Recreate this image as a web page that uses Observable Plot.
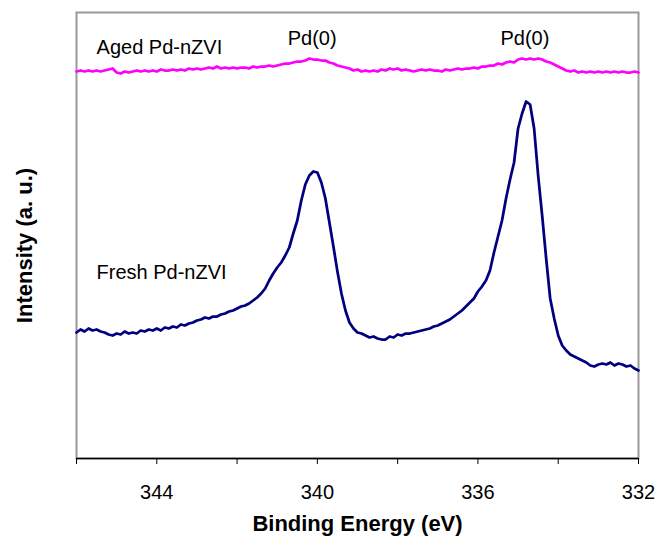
<!DOCTYPE html>
<html>
<head>
<meta charset="utf-8">
<script src="https://cdn.jsdelivr.net/npm/d3@7"></script>
<script src="https://cdn.jsdelivr.net/npm/@observablehq/plot@0.6"></script>
<style>
  html, body { margin: 0; padding: 0; background: white; }
</style>
</head>
<body>
<div id="chart"></div>
<script>
// Binding energy grid (eV), left (346) to right (332)
const energyEV = [346.0,345.9,345.8,345.7,345.6,345.5,345.4,345.3,345.2,345.1,
  345.0,344.9,344.8,344.7,344.6,344.5,344.4,344.3,344.2,344.1,
  344.0,343.9,343.8,343.7,343.6,343.5,343.4,343.3,343.2,343.1,
  343.0,342.9,342.8,342.7,342.6,342.5,342.4,342.3,342.2,342.1,
  342.0,341.9,341.8,341.7,341.6,341.5,341.4,341.3,341.2,341.1,
  341.0,340.9,340.8,340.7,340.6,340.5,340.4,340.3,340.2,340.1,
  340.0,339.9,339.8,339.7,339.6,339.5,339.4,339.3,339.2,339.1,
  339.0,338.9,338.8,338.7,338.6,338.5,338.4,338.3,338.2,338.1,
  338.0,337.9,337.8,337.7,337.6,337.5,337.4,337.3,337.2,337.1,
  337.0,336.9,336.8,336.7,336.6,336.5,336.4,336.3,336.2,336.1,
  336.0,335.9,335.8,335.7,335.6,335.5,335.4,335.3,335.2,335.1,
  335.0,334.9,334.8,334.7,334.6,334.5,334.4,334.3,334.2,334.1,
  334.0,333.9,333.8,333.7,333.6,333.5,333.4,333.3,333.2,333.1,
  333.0,332.9,332.8,332.7,332.6,332.5,332.4,332.3,332.2,332.1,
  332.0];

// Fresh Pd-nZVI intensity (a.u.)
const freshIntensity = [126,129,127,130,128,129,127,126,124,123,
  125,124,127,125,126,125,128,127,129,128,
  130,128,131,130,132,131,134,133,135,136,
  138,139,141,140,142,142,144,145,147,148,
  150,152,153,155,158,161,165,170,178,185,
  191,196,203,211,225,238,258,274,283,287,
  286,276,260,236,212,187,165,148,136,130,
  126,125,123,121,122,120,119,119,122,121,
  124,123,125,125,126,127,128,129,130,132,
  133,135,137,139,142,145,148,152,156,160,
  167,172,178,188,206,222,238,260,279,296,
  330,345,357,354,330,283,243,200,160,140,
  123,113,108,104,102,100,98,96,93,92,
  94,95,94,96,93,95,94,92,93,90,
  88];

// Aged Pd-nZVI intensity (a.u.)
const agedIntensity = [387,388,387,388,387,388,387,388,389,390,
  386,385,387,386,387,388,387,388,387,388,
  387,389,388,388,389,388,389,388,390,389,
  390,389,390,391,390,392,390,391,390,391,
  390,391,391,390,392,391,392,392,393,392,
  393,394,395,395,396,397,397,398,400,399,
  399,398,398,396,395,393,392,391,390,388,
  389,387,388,387,388,387,389,388,390,389,
  390,388,389,388,387,388,389,388,389,388,
  388,387,389,388,389,390,389,390,390,391,
  390,392,392,393,393,395,394,396,397,396,
  399,400,399,400,399,400,399,397,396,394,
  392,390,388,387,388,386,387,386,387,386,
  387,386,387,386,387,386,387,386,386,387,
  386];

const minorTicks = [346, 344, 342, 340, 338, 336, 334, 332];
const labeledTicks = [344, 340, 336, 332];
const xTitle = "Binding Energy (eV)";
const yTitle = "Intensity (a. u.)";

const seriesLabels = ["Aged Pd-nZVI", "Fresh Pd-nZVI"];
const seriesLabelEV = [345.5, 345.5];
const seriesLabelY = [411, 186];

const peakLabels = ["Pd(0)", "Pd(0)"];
const peakLabelEV = [340.13, 334.83];
const peakLabelY = [420, 420];

const fresh = energyEV.map((ev, i) => ({ev, intensity: freshIntensity[i]}));
const aged = energyEV.map((ev, i) => ({ev, intensity: agedIntensity[i]}));
const seriesAnno = seriesLabels.map((t, i) => ({t, ev: seriesLabelEV[i], y: seriesLabelY[i]}));
const peakAnno = peakLabels.map((t, i) => ({t, ev: peakLabelEV[i], y: peakLabelY[i]}));

const chart = Plot.plot({
  width: 660,
  height: 538,
  marginLeft: 76,
  marginRight: 22,
  marginTop: 12,
  marginBottom: 80,
  style: {fontFamily: "'Liberation Sans', Arial, sans-serif", background: "white", color: "black"},
  x: {domain: [346, 332]},
  y: {domain: [0, 446], axis: null},
  marks: [
    Plot.frame({stroke: "#999", strokeWidth: 2}),
    Plot.line(aged, {x: "ev", y: "intensity", stroke: "#FF00FF", strokeWidth: 2.75}),
    Plot.line(fresh, {x: "ev", y: "intensity", stroke: "#000080", strokeWidth: 2.75}),
    Plot.ruleY([0], {stroke: "black", strokeWidth: 1.5}),
    Plot.axisX({ticks: minorTicks, tickFormat: () => "", tickSize: 6, label: null, stroke: "black"}),
    Plot.axisX({ticks: labeledTicks, tickSize: 0, tickPadding: 26, fontSize: 20, label: null, fill: "black"}),
    Plot.text([xTitle], {frameAnchor: "bottom", dy: 65, lineAnchor: "middle", fontSize: 22, fontWeight: "bold", fill: "black"}),
    Plot.text([yTitle], {frameAnchor: "left", dx: -52, dy: 10, rotate: -90, textAnchor: "middle", lineAnchor: "middle", fontSize: 22, fontWeight: "bold", fill: "black"}),
    Plot.text(seriesAnno, {x: "ev", y: "y", text: "t", textAnchor: "start", fontSize: 20, fill: "black"}),
    Plot.text(peakAnno, {x: "ev", y: "y", text: "t", textAnchor: "middle", fontSize: 20, fill: "black"})
  ]
});
document.getElementById("chart").appendChild(chart);
</script>
</body>
</html>
